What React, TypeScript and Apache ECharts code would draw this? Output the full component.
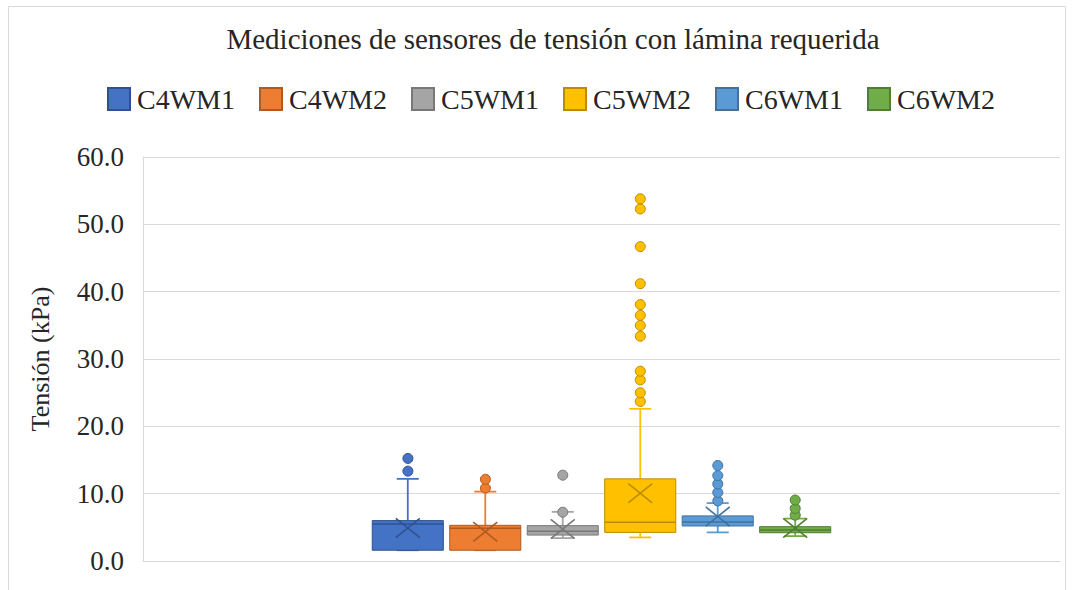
import React, { useEffect, useRef } from "react";
import * as echarts from "echarts";

const TITLE = "Mediciones de sensores de tensión con lámina requerida";
const Y_NAME = "Tensión (kPa)";
const SERIES_NAMES = ["C4WM1", "C4WM2", "C5WM1", "C5WM2", "C6WM1", "C6WM2"];
const FILLS = ["#4472C4", "#ED7D31", "#A5A5A5", "#FFC000", "#5B9BD5", "#70AD47"];
const EDGES = ["#2F528F", "#AE5A21", "#787878", "#BC8C00", "#41719C", "#507E32"];

// [min, Q1, median, Q3, max, mean]
const C4WM1_STATS = [1.6, 1.6, 5.5, 6.0, 12.2, 4.9];
const C4WM2_STATS = [1.6, 1.6, 4.85, 5.3, 10.3, 4.35];
const C5WM1_STATS = [3.4, 3.85, 4.4, 5.25, 7.3, 4.75];
const C5WM2_STATS = [3.5, 4.25, 5.75, 12.2, 22.6, 10.05];
const C6WM1_STATS = [4.25, 5.2, 5.8, 6.7, 8.6, 6.6];
const C6WM2_STATS = [3.7, 4.2, 4.6, 5.1, 6.3, 4.9];

const C4WM1_OUT = [13.5, 15.4];
const C4WM2_OUT = [11.0, 12.3];
const C5WM1_OUT = [7.3, 12.8];
const C5WM2_OUT = [23.8, 25.1, 27.0, 28.3, 33.5, 35.1, 36.6, 38.2, 41.3, 46.8, 52.4, 53.9];
const C6WM1_OUT = [9.05, 10.3, 11.55, 12.8, 14.3];
const C6WM2_OUT = [6.8, 7.8, 9.05];

const STATS = [C4WM1_STATS, C4WM2_STATS, C5WM1_STATS, C5WM2_STATS, C6WM1_STATS, C6WM2_STATS];
const OUTLIERS = [C4WM1_OUT, C4WM2_OUT, C5WM1_OUT, C5WM2_OUT, C6WM1_OUT, C6WM2_OUT];

const Y_MIN = 0;
const Y_MAX = 60;
const Y_STEP = 10;

const STEP_FRAC = 0.0845;
const BOX_FRAC = 0.0775;

const FONT = "'Liberation Serif', 'Times New Roman', serif";

export default function App() {
  const ref = useRef<HTMLDivElement>(null);

  useEffect(() => {
    if (!ref.current) return;
    const chart = echarts.init(ref.current, undefined, { renderer: "svg" });

    const series = SERIES_NAMES.map((name, si) => {
      const s = STATS[si];
      const data: number[][] = [[0, 0, ...s]];
      OUTLIERS[si].forEach((v) => data.push([0, 1, v, v, v, v, v, v]));
      return {
        type: "custom",
        name,
        itemStyle: { color: FILLS[si], borderColor: EDGES[si], borderWidth: 1 },
        encode: { x: 0, y: [2, 3, 4, 5, 6] },
        data,
        renderItem: (params: any, api: any) => {
          const idx = params.seriesIndex;
          const band = api.size([1, 0])[0];
          const cx = api.coord([0, 0])[0] + (idx - 2.5) * band * STEP_FRAC;
          const w = band * BOX_FRAC;
          const fill = FILLS[idx];
          const edge = EDGES[idx];
          const kind = api.value(1);
          const yOf = (v: number) => api.coord([0, v])[1];
          if (kind === 1) {
            const y = yOf(api.value(2));
            return {
              type: "circle",
              shape: { cx, cy: y, r: 5 },
              style: { fill, stroke: edge, lineWidth: 1 },
            };
          }
          const yMin = yOf(api.value(2));
          const yQ1 = yOf(api.value(3));
          const yMed = yOf(api.value(4));
          const yQ3 = yOf(api.value(5));
          const yMax = yOf(api.value(6));
          const yMean = yOf(api.value(7));
          const cap = 11;
          const xs = 12;
          const lineStyle = { stroke: fill, lineWidth: 1.8 };
          const children: any[] = [
            { type: "line", shape: { x1: cx, y1: yQ3, x2: cx, y2: yMax }, style: lineStyle },
            { type: "line", shape: { x1: cx - cap, y1: yMax, x2: cx + cap, y2: yMax }, style: lineStyle },
            { type: "line", shape: { x1: cx, y1: yQ1, x2: cx, y2: yMin }, style: lineStyle },
            { type: "line", shape: { x1: cx - cap, y1: yMin, x2: cx + cap, y2: yMin }, style: lineStyle },
            {
              type: "rect",
              shape: { x: cx - w / 2, y: yQ3, width: w, height: yQ1 - yQ3 },
              style: { fill, stroke: edge, lineWidth: 1 },
            },
            { type: "line", shape: { x1: cx - w / 2, y1: yMed, x2: cx + w / 2, y2: yMed }, style: { stroke: edge, lineWidth: 1.5 } },
            { type: "line", shape: { x1: cx - xs, y1: yMean - xs * 0.8, x2: cx + xs, y2: yMean + xs * 0.8 }, style: { stroke: edge, lineWidth: 1.6 } },
            { type: "line", shape: { x1: cx - xs, y1: yMean + xs * 0.8, x2: cx + xs, y2: yMean - xs * 0.8 }, style: { stroke: edge, lineWidth: 1.6 } },
          ];
          return { type: "group", children };
        },
      };
    });

    chart.setOption({
      animation: false,
      backgroundColor: "#ffffff",
      title: {
        text: TITLE,
        left: 548,
        textAlign: "center",
        top: 19,
        textStyle: { fontFamily: FONT, fontSize: 29, fontWeight: "normal", color: "#262626" },
      },
      legend: {
        data: SERIES_NAMES,
        left: 102,
        top: 80,
        icon: "rect",
        itemWidth: 22,
        itemHeight: 22,
        itemGap: 24,
        textStyle: { fontFamily: FONT, fontSize: 28, color: "#262626", padding: [0, 0, 0, 2] },
      },
      grid: { left: 143, right: 13, top: 157, bottom: 29 },
      xAxis: {
        type: "category",
        data: [""],
        axisLine: { show: true, lineStyle: { color: "#D9D9D9" } },
        axisTick: { show: false },
        axisLabel: { show: false },
      },
      yAxis: {
        type: "value",
        min: Y_MIN,
        max: Y_MAX,
        interval: Y_STEP,
        name: Y_NAME,
        nameLocation: "middle",
        nameRotate: 90,
        nameGap: 90,
        nameTextStyle: { fontFamily: FONT, fontSize: 26, color: "#262626" },
        axisLine: { show: true, lineStyle: { color: "#D9D9D9" } },
        axisTick: { show: false },
        splitLine: { lineStyle: { color: "#D9D9D9" } },
        axisLabel: {
          margin: 19,
          fontFamily: FONT,
          fontSize: 27,
          color: "#262626",
          formatter: (v: number) => v.toFixed(1),
        },
      },
      graphic: [
        {
          type: "rect",
          shape: { x: 8.5, y: 6.5, width: 1057, height: 600 },
          style: { fill: "none", stroke: "#D9D9D9", lineWidth: 1 },
          silent: true,
        },
      ],
      series,
    });

    return () => chart.dispose();
  }, []);

  return (
    <div
      ref={ref}
      style={{ position: "fixed", left: 0, top: 0, width: 1073, height: 590 }}
    />
  );
}
